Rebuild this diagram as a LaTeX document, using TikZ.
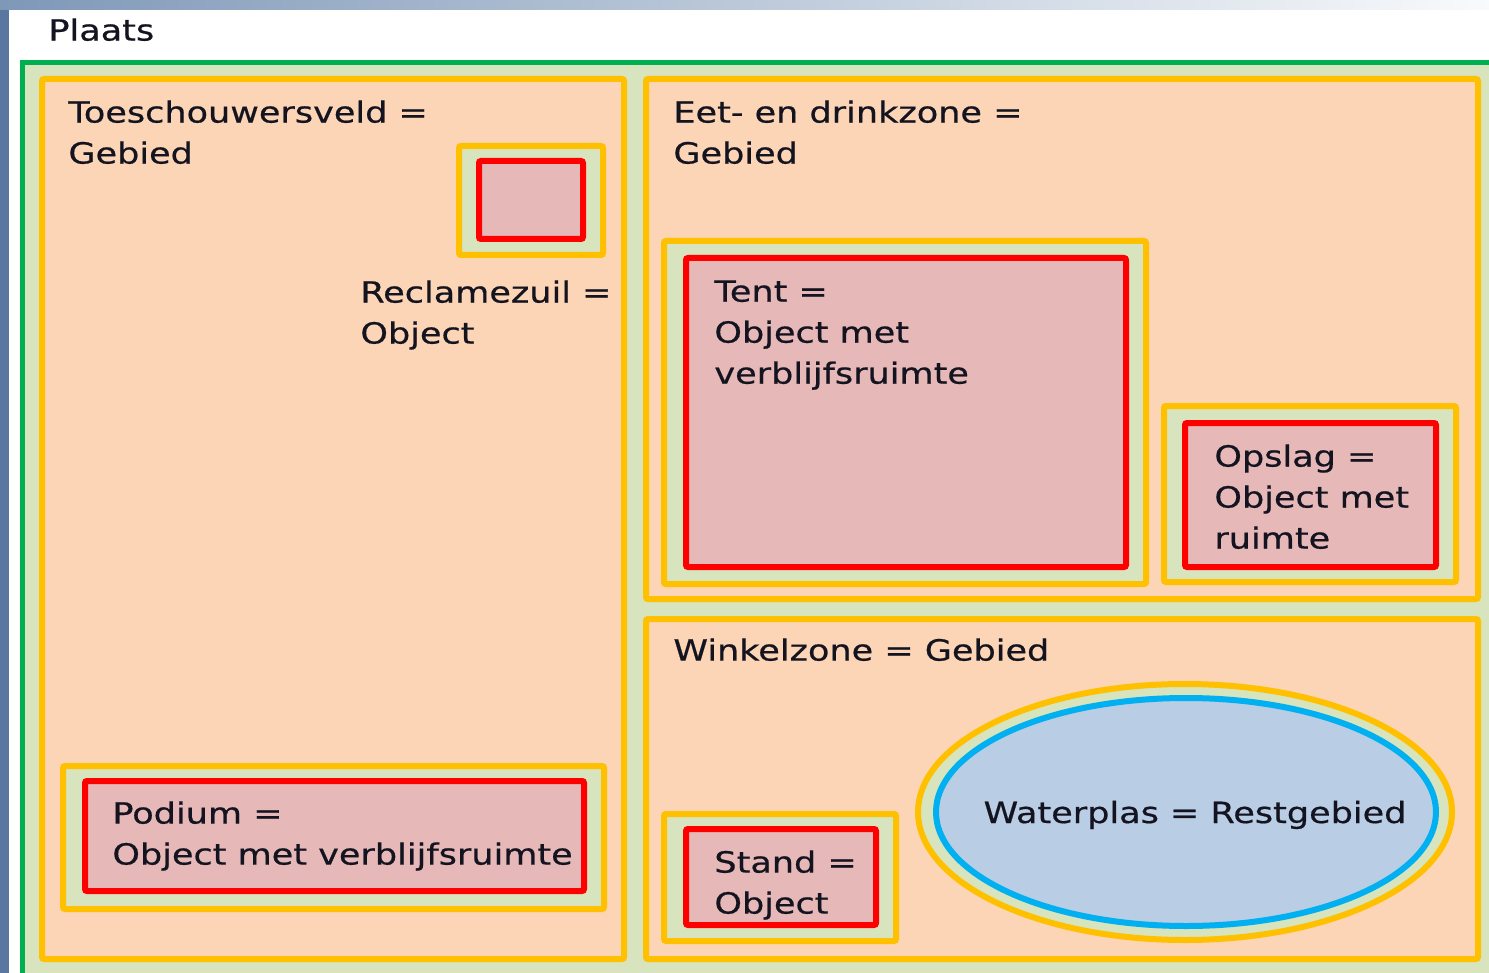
\documentclass[tikz,border=0pt]{standalone}
\usepackage{fontspec}
\setmainfont[FakeStretch=1.2,FakeBold=0.6]{DejaVu Sans}
\definecolor{cgreen}{HTML}{00B050}
\definecolor{cltgreen}{HTML}{D7E4BD}
\definecolor{corange}{HTML}{FFC000}
\definecolor{cpeach}{HTML}{FBD5B5}
\definecolor{cred}{HTML}{FF0000}
\definecolor{cpink}{HTML}{E6B9B8}
\definecolor{cblue}{HTML}{00B0F0}
\definecolor{cltblue}{HTML}{B9CDE5}
\definecolor{cframe}{HTML}{5A77A0}
\definecolor{cframetop}{HTML}{7F98B8}
\definecolor{ctext}{HTML}{141420}
\tikzset{
  area/.style={draw=corange, line width=3pt, fill=cpeach, rounded corners=1pt},
  holder/.style={draw=corange, line width=3pt, fill=cltgreen, rounded corners=1pt},
  obj/.style={draw=cred, line width=3pt, fill=cpink, rounded corners=1pt},
  lbl/.style={anchor=north west, inner sep=0pt, align=left, text=ctext,
    font=\fontsize{14.6}{20.5}\selectfont},
}
\begin{document}
\begin{tikzpicture}[x=0.5pt,y=-0.5pt]
\useasboundingbox (0,0) rectangle (1489,973);
% outer frame
\fill[cframe] (0,0) rectangle (9,973);
\shade[left color=cframetop, right color=white!95!cframetop] (0,0) rectangle (1489,10);
\fill[white] (9,10) rectangle (1489,973);
\node[lbl] (plaats) at (48,18) {Plaats};
% green region
\begin{scope}
\clip (0,0) rectangle (1489,973);
\draw[cgreen, line width=2.5pt, fill=cltgreen] (22,63) rectangle (1500,985);
\end{scope}
% areas
\draw[area] (42,79) rectangle (624,959);
\draw[area] (646,79) rectangle (1478,599);
\draw[area] (646,619) rectangle (1478,959);
% Reclamezuil
\draw[holder] (459,146) rectangle (603,255);
\draw[obj] (479,161) rectangle (583,239);
% Podium
\draw[holder] (63,766) rectangle (604,909);
\draw[obj] (85,781) rectangle (584,891);
% Tent
\draw[holder] (664,241) rectangle (1146,584);
\draw[obj] (686,258) rectangle (1126,567);
% Opslag
\draw[holder] (1164,406) rectangle (1456,582);
\draw[obj] (1185,423) rectangle (1436,567);
% Stand
\draw[holder] (664,814) rectangle (896,941);
\draw[obj] (686,829) rectangle (876,925);
% Waterplas
\draw[draw=corange, line width=3pt, fill=cltgreen] (1185,812) ellipse [x radius=267, y radius=128];
\draw[draw=cblue, line width=3pt, fill=cltblue] (1186,812) ellipse [x radius=250, y radius=114];
% labels
\node[lbl] (toesch) at (68,100) {Toeschouwersveld =\\Gebied};
\node[lbl] (reclame) at (360,280) {Reclamezuil =\\Object};
\node[lbl] (podium) at (112,801) {Podium =\\Object met verblijfsruimte};
\node[lbl] (eet) at (673,100) {Eet- en drinkzone =\\Gebied};
\node[lbl] (tent) at (714,280) {Tent =\\Object met\\verblijfsruimte};
\node[lbl] (opslag) at (1214,444) {Opslag =\\Object met\\ruimte};
\node[lbl] (winkel) at (673,638) {Winkelzone = Gebied};
\node[lbl] (stand) at (714,850) {Stand =\\Object};
\node[lbl, anchor=base] (water) at (1195,823) {Waterplas = Restgebied};
\end{tikzpicture}
\end{document}
